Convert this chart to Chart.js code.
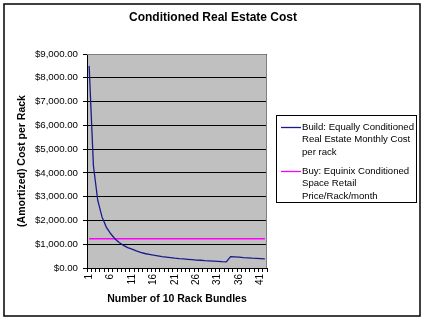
<!DOCTYPE html>
<html>
<head>
<meta charset="utf-8">
<script src="https://cdn.jsdelivr.net/npm/chart.js@4"></script>
<style>
html,body{margin:0;padding:0;background:#fff;}
</style>
</head>
<body>
<canvas id="c" width="427" height="323"></canvas>
<script>
const categories = [];
for (let i = 1; i <= 42; i++) categories.push(String(i));
const buildCost = [8500,4300,2850,2150,1720,1450,1230,1070,950,860,790,720,660,610,575,540,510,480,460,440,415,395,380,365,350,335,325,310,300,290,280,265,255,480,470,455,440,430,415,405,395,385];
const buyPrice = [1230,1230,1230,1230,1230,1230,1230,1230,1230,1230,1230,1230,1230,1230,1230,1230,1230,1230,1230,1230,1230,1230,1230,1230,1230,1230,1230,1230,1230,1230,1230,1230,1230,1230,1230,1230,1230,1230,1230,1230,1230,1230];
const seriesNames = ["Build: Equally Conditioned Real Estate Monthly Cost per rack","Buy: Equinix Conditioned Space Retail Price/Rack/month"];
const seriesColors = ["#1A1A8C","#FF00FF"];
const yTicks = [0,1000,2000,3000,4000,5000,6000,7000,8000,9000];
const chartTitle = "Conditioned Real Estate Cost";

const FONT = '"Liberation Sans", Arial, sans-serif';

function wrap(ctx, text, maxW){
  const words = text.split(' '); const lines=[]; let cur='';
  words.forEach(w=>{
    const t = cur ? cur+' '+w : w;
    if (ctx.measureText(t).width > maxW && cur){ lines.push(cur); cur=w; } else cur=t;
  });
  if (cur) lines.push(cur);
  return lines;
}

const bgPlugin = {
  id:'bg',
  beforeDraw(chart){
    const ctx = chart.ctx, a = chart.chartArea;
    ctx.save();
    ctx.fillStyle='#fff'; ctx.fillRect(0,0,chart.width,chart.height);
    ctx.strokeStyle='#000'; ctx.lineWidth=1.5;
    ctx.strokeRect(4,4,416,312);
    ctx.fillStyle='#C0C0C0';
    ctx.fillRect(a.left,a.top,a.right-a.left,a.bottom-a.top);
    ctx.fillStyle='#000';
    ctx.font='bold 12px '+FONT;
    ctx.textAlign='center'; ctx.textBaseline='middle';
    ctx.fillText(chartTitle, 213, 18);
    ctx.restore();
  },
  afterDatasetsDraw(chart){
    const ctx = chart.ctx, a = chart.chartArea;
    ctx.save();
    ctx.strokeStyle='#808080'; ctx.lineWidth=1;
    ctx.beginPath();
    ctx.moveTo(a.left, a.top+0.5); ctx.lineTo(a.right-0.5, a.top+0.5); ctx.lineTo(a.right-0.5, a.bottom);
    ctx.stroke();
    // legend
    ctx.fillStyle='#fff'; ctx.fillRect(276,115,141,87);
    ctx.strokeStyle='#000'; ctx.lineWidth=1;
    ctx.strokeRect(276.5,115.5,140,87);
    ctx.font='9.6px '+FONT;
    ctx.textAlign='left'; ctx.textBaseline='middle';
    const starts=[127,171];
    seriesNames.forEach((n,i)=>{
      const lines = wrap(ctx,n,114);
      ctx.strokeStyle=seriesColors[i]; ctx.lineWidth=1.3;
      ctx.beginPath(); ctx.moveTo(281,starts[i]+0.5); ctx.lineTo(301,starts[i]+0.5); ctx.stroke();
      ctx.fillStyle='#000';
      lines.forEach((l,j)=>ctx.fillText(l,302,starts[i]+j*12.5));
    });
    ctx.restore();
  }
};

new Chart(document.getElementById('c'), {
  type:'line',
  data:{
    labels:categories,
    datasets:[
      {label:seriesNames[0],data:buildCost,borderColor:seriesColors[0],borderWidth:1.3,pointRadius:0,tension:0,fill:false},
      {label:seriesNames[1],data:buyPrice,borderColor:seriesColors[1],borderWidth:1.3,pointRadius:0,tension:0,fill:false}
    ]
  },
  options:{
    responsive:false,
    animation:false,
    layout:{padding:{left:16,right:160,top:54,bottom:14}},
    plugins:{
      legend:{display:false},
      tooltip:{enabled:false},
      title:{display:false}
    },
    scales:{
      x:{
        type:'category',
        offset:true,
        grid:{display:true,drawOnChartArea:false,offset:true,color:'#000',tickLength:4,tickColor:'#000'},
        border:{display:true,color:'#000'},
        ticks:{autoSkip:false,maxRotation:90,minRotation:90,color:'#000',padding:2,
          font:{family:FONT,size:10},
          callback:function(v,i){return (i%5===0)?categories[i]:'';}},
        title:{display:true,text:'Number of 10 Rack Bundles',color:'#000',
          font:{family:FONT,size:10.5,weight:'bold'},padding:{top:2,bottom:4}},
        afterFit(s){s.height=41;}
      },
      y:{
        min:0,max:9000,
        afterBuildTicks(s){s.ticks=yTicks.map(v=>({value:v}));},
        grid:{color:'#000',lineWidth:1,tickLength:4,tickColor:'#000'},
        border:{display:true,color:'#000'},
        ticks:{color:'#000',padding:5,font:{family:FONT,size:9.7},
          callback:v=>'$'+Number(v).toLocaleString('en-US',{minimumFractionDigits:2,maximumFractionDigits:2})},
        title:{display:true,text:'(Amortized) Cost per Rack',color:'#000',
          font:{family:FONT,size:10.5,weight:'bold'},padding:{top:0,bottom:2}},
        afterFit(s){s.width=71;}
      }
    }
  },
  plugins:[bgPlugin]
});
</script>
</body>
</html>
